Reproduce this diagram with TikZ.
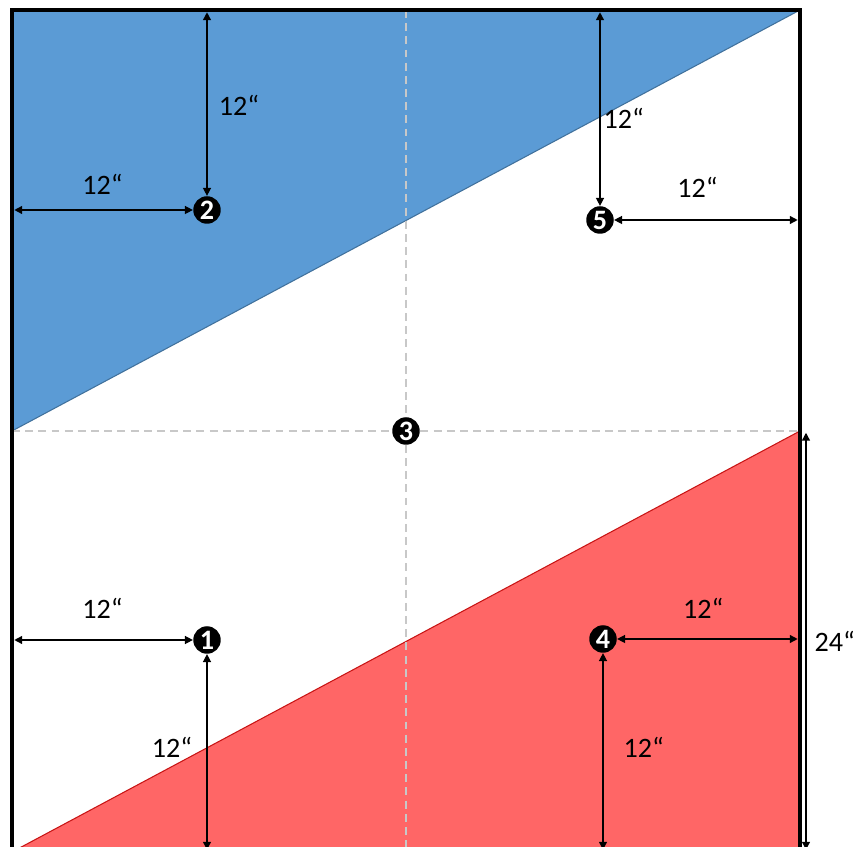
\documentclass[tikz,border=0pt]{standalone}
\usepackage{fontspec}
\setmainfont{Carlito}
\usepackage{tikz}
\usetikzlibrary{arrows.meta,calc}
\definecolor{bluezone}{RGB}{91,155,213}
\definecolor{blueedge}{RGB}{65,113,156}
\definecolor{redzone}{RGB}{255,102,102}
\definecolor{rededge}{RGB}{200,20,20}
\definecolor{guidegray}{RGB}{200,200,200}

\begin{document}
\begin{tikzpicture}[
  x=0.02cm, y=-0.02cm,
  font=\fontsize{16}{18}\selectfont,
  frame/.style={line width=2.6pt},
  guide/.style={guidegray, line width=1.2pt, dash pattern=on 4.5pt off 3pt},
  pt/.style={circle, fill=black, text=white, inner sep=0pt, minimum size=0.55cm,
             font=\fontsize{16}{16}\selectfont\bfseries},
  dim/.style={{Triangle[length=4.5pt,width=4.5pt]}-{Triangle[length=4.5pt,width=4.5pt]}, line width=0.8pt},
  lbl/.style={inner sep=0pt},
]
\useasboundingbox (0,0) rectangle (853,847);
% frame corners and midline ends
\coordinate (tl) at (12,10);
\coordinate (tr) at (800,10);
\coordinate (ml) at (12,431);
\coordinate (mr) at (800,431);
\coordinate (bl) at (12,852);
\coordinate (br) at (800,852);
\coordinate (tm) at (406,10);
\coordinate (bm) at (406,852);

% coloured zones
\fill[bluezone] (tl) -- (tr) -- (ml) -- cycle;
\draw[blueedge, line width=0.6pt] (tr) -- (ml);
\fill[redzone] (bl) -- (mr) -- (br) -- cycle;
\draw[rededge, line width=0.6pt] (bl) -- (mr);

% centre guides
\draw[guide] (ml) -- (mr);
\draw[guide] (tm) -- (bm);

\draw[frame] (tl) rectangle (br);

% points
\node[pt] (p1) at (207,640) {1};
\node[pt] (p2) at (207,210) {2};
\node[pt] (p3) at (406,431) {3};
\node[pt] (p4) at (603,639) {4};
\node[pt] (p5) at (600,220) {5};

% dimensions
\draw[dim, shorten <=1.3pt] (p2.north |- tl) -- node[lbl, right=6.3pt, yshift=-1.5pt]{12“} (p2.north);
\draw[dim, shorten <=1.3pt] (p2.west -| tl) -- node[lbl, above=8.5pt]{12“} (p2.west);
\draw[dim, shorten <=1.3pt] (p5.north |- tr) -- node[lbl, right=1.7pt, yshift=-6pt]{12“} (p5.north);
\draw[dim, shorten <=1.3pt] (p5.east -| tr) -- node[lbl, above=12.5pt, xshift=-5.5pt]{12“} (p5.east);
\draw[dim, shorten <=1.3pt] (p1.west -| ml) -- node[lbl, above=12pt]{12“} (p1.west);
\draw[dim, shorten >=1.3pt] (p1.south) -- node[lbl, left=8pt, yshift=3pt]{12“} (p1.south |- bl);
\draw[dim, shorten >=1.3pt] (p4.east) -- node[lbl, above=11.5pt, xshift=-3pt]{12“} (p4.east -| mr);
\draw[dim, shorten >=1.3pt] (p4.south) -- node[lbl, right=11.4pt, yshift=3pt]{12“} (p4.south |- br);
\draw[dim, shorten <=1pt, shorten >=1.3pt] ($(mr)+(6,0)$) -- node[lbl, right=4.5pt]{24“} ($(br)+(6,0)$);
\end{tikzpicture}
\end{document}
